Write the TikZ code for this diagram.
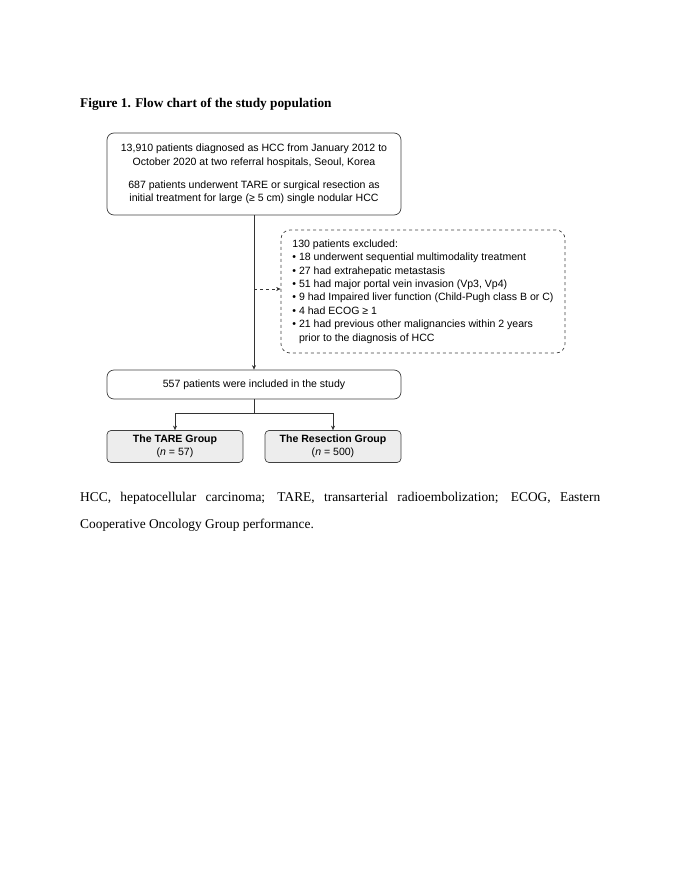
\documentclass[tikz,border=0pt]{standalone}
\usepackage{fontspec}
\setmainfont{Liberation Serif}
\newfontfamily\arialf{Liberation Sans}
\usetikzlibrary{arrows.meta}
\begin{document}
\begin{tikzpicture}[x=1pt,y=-1pt,
  box/.style={draw=black!75, line width=0.7pt, rounded corners=7pt, align=center, inner sep=0pt, font=\arialf\fontsize{10.55}{13.4}\selectfont},
  grpbox/.style={box, fill=black!7, rounded corners=4pt},
  conn/.style={draw=black!80, line width=0.7pt},
  arr/.style={conn, -{Stealth[length=4.5pt,width=4pt]}}
]
\useasboundingbox (0,0) rectangle (680,880);
\node[anchor=base west, inner sep=0pt, font=\bfseries\fontsize{13.3}{15}\selectfont] (title) at (80,107) {Figure 1. Flow chart of the study population};

\node[box, minimum width=294pt, minimum height=82pt] (top) at (254,174)
 {13,910 patients diagnosed as HCC from January 2012 to\\
  October 2020 at two referral hospitals, Seoul, Korea\\[10pt]
  687 patients underwent TARE or surgical resection as\\
  initial treatment for large (≥ 5 cm) single nodular HCC};

\node[box, dashed, rounded corners=9pt, minimum width=284pt, minimum height=123pt, align=left] (excl) at (423,291.5)
 {130 patients excluded:\\
  • 18 underwent sequential multimodality treatment\\
  • 27 had extrahepatic metastasis\\
  • 51 had major portal vein invasion (Vp3, Vp4)\\
  • 9 had Impaired liver function (Child-Pugh class B or C)\\
  • 4 had ECOG ≥ 1\\
  • 21 had previous other malignancies within 2 years\\
  \phantom{• }prior to the diagnosis of HCC};

\node[box, minimum width=294pt, minimum height=29pt] (incl) at (254,384.5) {557 patients were included in the study};

\node[grpbox, minimum width=136pt, minimum height=32pt] (tare) at (175,446.5)
 {\textbf{The TARE Group}\\(\textit{n} = 57)};
\node[grpbox, minimum width=136pt, minimum height=32pt] (res) at (333,446.5)
 {\textbf{The Resection Group}\\(\textit{n} = 500)};

\draw[arr] (top.south) -- (incl.north);
\coordinate (mid) at (254,289);
\draw[arr, dashed] (mid) -- (excl.west |- mid);
\coordinate (split) at (254,413);
\draw[conn] (incl.south) -- (split);
\draw[arr] (split) -| (tare.north);
\draw[arr] (split) -| (res.north);

\node[anchor=base west, inner sep=0pt, font=\fontsize{13.4}{15}\selectfont] (cap1) at (80,501)
 {\makebox[520pt][s]{HCC, hepatocellular carcinoma; TARE, transarterial radioembolization; ECOG, Eastern}};
\node[anchor=base west, inner sep=0pt, font=\fontsize{13.4}{15}\selectfont] (cap2) at (80,528.5)
 {Cooperative Oncology Group performance.};
\end{tikzpicture}
\end{document}
